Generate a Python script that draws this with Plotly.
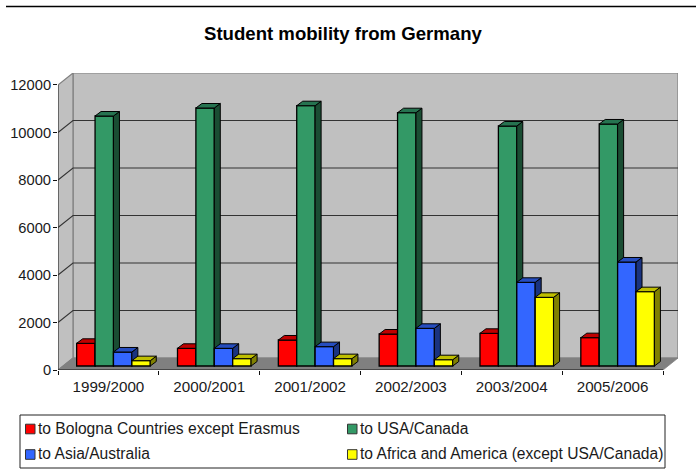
import plotly.graph_objects as go

# Student counts per academic year
years = ["1999/2000", "2000/2001", "2001/2002", "2002/2003", "2003/2004", "2005/2006"]
bologna = [955, 745, 1095, 1347, 1376, 1193]
usa_canada = [10526, 10863, 10960, 10665, 10105, 10190]
asia_australia = [590, 745, 815, 1587, 3524, 4379]
africa_america = [225, 310, 310, 265, 2892, 3130]
y_ticks = [0, 2000, 4000, 6000, 8000, 10000, 12000]

series = [
    ("to Bologna Countries except Erasmus", bologna, "#FF0000", "#C00000", "#800000"),
    ("to USA/Canada", usa_canada, "#339966", "#267350", "#1A4D33"),
    ("to Asia/Australia", asia_australia, "#3366FF", "#264DBF", "#1A3380"),
    ("to Africa and America (except USA/Canada)", africa_america, "#FFFF00", "#BFBF00", "#808000"),
]

# Perspective offsets, in axis units
WALL_DX, WALL_DY = 0.1488, 505      # back wall relative to the front edge
FLOOR_DX, FLOOR_DY = 0.05, 168      # front of the bars relative to the front edge
DEPTH_DX, DEPTH_DY = 0.0595, 190    # depth of one bar
BAR_W = 0.1825

X_MIN, X_MAX = -0.5, len(years) - 0.5
FONT = "Liberation Sans, Arial, sans-serif"
TEXT = "#1a1a1a"

fig = go.Figure()


def poly(xs, ys, fill, line="#000000", width=1.0, axes=("x", "y")):
    fig.add_trace(go.Scatter(
        x=xs, y=ys, mode="lines", fill="toself", fillcolor=fill,
        line=dict(color=line, width=width), xaxis=axes[0], yaxis=axes[1],
        cliponaxis=False, hoverinfo="skip", showlegend=False,
    ))


def line(xs, ys, color, width=1.0):
    fig.add_trace(go.Scatter(
        x=xs, y=ys, mode="lines", line=dict(color=color, width=width),
        cliponaxis=False, hoverinfo="skip", showlegend=False,
    ))


# Back wall, side wall and floor
top = y_ticks[-1]
poly([X_MIN + WALL_DX, X_MAX + WALL_DX, X_MAX + WALL_DX, X_MIN + WALL_DX, X_MIN + WALL_DX],
     [WALL_DY, WALL_DY, top + WALL_DY, top + WALL_DY, WALL_DY], "#C0C0C0", "#808080", 1.2)
poly([X_MIN, X_MIN + WALL_DX, X_MIN + WALL_DX, X_MIN, X_MIN],
     [0, WALL_DY, top + WALL_DY, top, 0], "#C0C0C0", "#808080", 1.2)
poly([X_MIN, X_MAX, X_MAX + WALL_DX, X_MIN + WALL_DX, X_MIN],
     [0, 0, WALL_DY, WALL_DY, 0], "#808080", "#808080", 0.8)

# Grid lines run across the side wall and the back wall
for v in y_ticks[1:-1]:
    line([X_MIN, X_MIN + WALL_DX, X_MAX + WALL_DX], [v, v + WALL_DY, v + WALL_DY], "#333333", 1.1)

# Front axis lines
line([X_MIN, X_MIN], [0, top], "#333333", 1.0)
line([X_MIN, X_MAX], [0, 0], "#111111", 1.2)

# Each series lives on its own overlaid axes so bars stack left to right
for k, (name, values, front, top_c, side_c) in enumerate(series):
    xa, ya = f"x{k + 2}", f"y{k + 2}"
    centers = [i + FLOOR_DX + (k - 1.5) * BAR_W for i in range(len(years))]
    fig.add_trace(go.Bar(
        x=centers, y=values, base=[FLOOR_DY] * len(values), width=BAR_W, name=name,
        marker=dict(color=front, line=dict(color="#000000", width=1.3)),
        xaxis=xa, yaxis=ya, showlegend=False, hoverinfo="y",
    ))
    for c, v in zip(centers, values):
        left, right = c - BAR_W / 2, c + BAR_W / 2
        upper = v + FLOOR_DY
        poly([right, right + DEPTH_DX, right + DEPTH_DX, right, right],
             [FLOOR_DY, FLOOR_DY + DEPTH_DY, upper + DEPTH_DY, upper, FLOOR_DY],
             side_c, axes=(xa, ya))
        poly([left, right, right + DEPTH_DX, left + DEPTH_DX, left],
             [upper, upper, upper + DEPTH_DY, upper + DEPTH_DY, upper],
             top_c, axes=(xa, ya))

# Page layout in pixels
W, H = 696, 471
M_L, M_R, M_T, M_B = 58, 18, 73, 101
PLOT_W, PLOT_H = W - M_L - M_R, H - M_T - M_B


def px(x):
    return (x - M_L) / PLOT_W


def py(y):
    return 1 - (y - M_T) / PLOT_H


shapes = [
    dict(type="line", xref="paper", yref="paper", x0=px(6), x1=px(696), y0=py(6.5), y1=py(6.5),
         line=dict(color="#000000", width=1.5)),
    dict(type="rect", xref="paper", yref="paper", x0=px(20), x1=px(665), y0=py(415), y1=py(468),
         line=dict(color="#222222", width=1), fillcolor="#FFFFFF"),
]
annotations = [
    dict(text="<b>Student mobility from Germany</b>", xref="paper", yref="paper",
         x=px(343.5), y=py(33.5), xanchor="center", yanchor="middle", showarrow=False,
         font=dict(family=FONT, size=18.6, color="#000000")),
]

legend_slots = [(25.5, 429), (347.5, 429), (25.5, 454.5), (347.5, 454.5)]
for (name, _, front, _, _), (sx, sy) in zip(series, legend_slots):
    shapes.append(dict(type="rect", xref="paper", yref="paper",
                       x0=px(sx), x1=px(sx + 9.5), y0=py(sy - 4.8), y1=py(sy + 4.8),
                       fillcolor=front, line=dict(color="#333333", width=1)))
    annotations.append(dict(text=name, xref="paper", yref="paper", x=px(sx + 10.5), y=py(sy - 1),
                            xanchor="left", yanchor="middle", showarrow=False,
                            font=dict(family=FONT, size=15.6, color=TEXT)))

layout = dict(
    width=W, height=H, autosize=False,
    margin=dict(l=M_L, r=M_R, t=M_T, b=M_B, pad=0, autoexpand=False),
    paper_bgcolor="#FFFFFF", plot_bgcolor="#FFFFFF",
    barmode="overlay", showlegend=False,
    shapes=shapes, annotations=annotations,
    font=dict(family=FONT, size=14.7, color=TEXT),
    xaxis=dict(
        automargin=False,
        range=[X_MIN, X_MAX + WALL_DX], showgrid=False, zeroline=False, showline=False,
        tickmode="array", tickvals=list(range(len(years))), ticktext=years,
        ticks="outside", ticklen=3, tickcolor="rgba(0,0,0,0)",
        minor=dict(tickmode="array", tickvals=[i - 0.5 for i in range(len(years) + 1)],
                   ticks="outside", ticklen=4, tickcolor="#111111", tickwidth=1, showgrid=False),
        tickfont=dict(family=FONT, size=15.2, color=TEXT),
    ),
    yaxis=dict(
        automargin=False,
        range=[0, top + WALL_DY], showgrid=False, zeroline=False, showline=False,
        tickmode="array", tickvals=y_ticks, ticktext=[str(v) for v in y_ticks],
        ticks="outside", ticklen=4, tickcolor="#111111", tickwidth=1, ticklabelstandoff=-1,
        tickfont=dict(family=FONT, size=14.7, color=TEXT),
    ),
)
for k in range(len(series)):
    layout[f"xaxis{k + 2}"] = dict(range=[X_MIN, X_MAX + WALL_DX], overlaying="x", anchor=f"y{k + 2}", visible=False, automargin=False)
    layout[f"yaxis{k + 2}"] = dict(range=[0, top + WALL_DY], overlaying="y", anchor=f"x{k + 2}", visible=False, automargin=False)
fig.update_layout(**layout)

fig.write_html("out.html", config=dict(displayModeBar=False))
